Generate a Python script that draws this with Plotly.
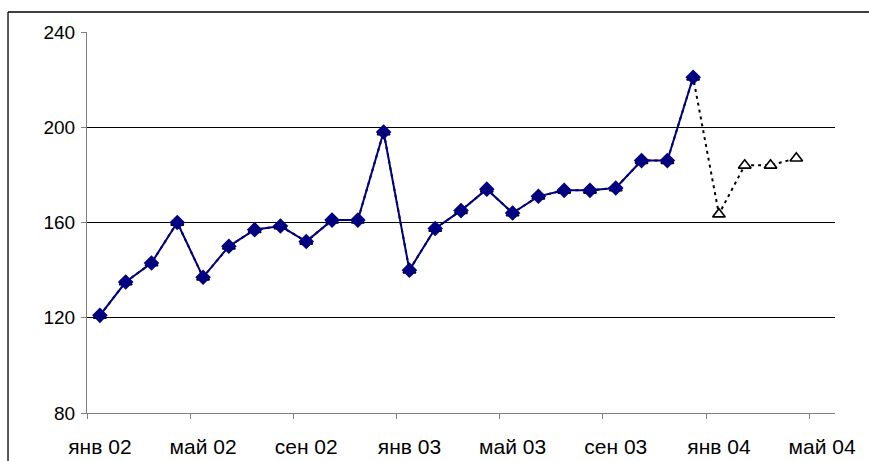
import plotly.graph_objects as go

# Month slots Jan 02 .. May 04 (index 0 = янв 02)
months = ["янв 02", "фев 02", "мар 02", "апр 02", "май 02", "июн 02", "июл 02", "авг 02",
          "сен 02", "окт 02", "ноя 02", "дек 02", "янв 03", "фев 03", "мар 03", "апр 03",
          "май 03", "июн 03", "июл 03", "авг 03", "сен 03", "окт 03", "ноя 03", "дек 03",
          "янв 04", "фев 04", "мар 04", "апр 04", "май 04"]

# Actual values (Jan 02 - Dec 03)
actual = [121, 135, 143, 160, 137, 150, 157, 158.5, 152, 161, 161, 198,
          140, 157.5, 165, 174, 164, 171, 173.5, 173.5, 174.5, 186, 186, 221]

# Model / forecast values (Jan 02 - Apr 04)
model = [121, 135, 143, 160, 137, 150, 157, 158.5, 152, 161, 161, 198,
         140, 157.5, 165, 174, 164, 171, 173.5, 173.5, 174.5, 186, 186, 221,
         163.5, 184, 184, 187]

tick_labels = ["янв 02", "май 02", "сен 02", "янв 03", "май 03", "сен 03", "янв 04", "май 04"]
y_ticks = [80, 120, 160, 200, 240]

label_pos = [months.index(t) for t in tick_labels]
boundary_pos = [p - 0.5 for p in label_pos]

fig = go.Figure()
fig.add_trace(go.Scatter(
    x=list(range(len(model))), y=model, mode="lines+markers",
    line=dict(color="black", width=2, dash="3px,4px"),
    marker=dict(symbol="triangle-up", size=11, color="white",
                line=dict(color="black", width=1.6)),
    showlegend=False, hoverinfo="skip"))
fig.add_trace(go.Scatter(
    x=list(range(len(actual))), y=actual, mode="lines+markers",
    line=dict(color="#000080", width=2),
    marker=dict(symbol="diamond", size=12, color="#000080",
                line=dict(color="#000080", width=0)),
    showlegend=False, hoverinfo="skip"))

fig.update_layout(
    width=869, height=461,
    margin=dict(l=87, r=34, t=32, b=48, autoexpand=False),
    paper_bgcolor="white", plot_bgcolor="white",
    font=dict(family="Arial, Liberation Sans, sans-serif", color="black"),
    xaxis=dict(
        range=[-0.5, len(months) - 0.5], automargin=False,
        tickmode="array", tickvals=label_pos, ticktext=tick_labels,
        ticks="", showgrid=False, zeroline=False,
        showline=True, linecolor="#808080", linewidth=1,
        tickfont=dict(size=21),
        ticklabelstandoff=15,
        minor=dict(tickmode="array", tickvals=boundary_pos, ticks="outside",
                   ticklen=5, tickcolor="#808080", tickwidth=1, showgrid=False),
    ),
    yaxis=dict(
        range=[80, 240], tickmode="array", tickvals=y_ticks, automargin=False,
        ticks="outside", ticklen=5, tickcolor="#808080",
        showgrid=True, gridcolor="black", gridwidth=1, zeroline=False,
        showline=True, linecolor="#808080", linewidth=1,
        tickfont=dict(size=19), ticklabelstandoff=2,
    ),
    shapes=[
        dict(type="line", xref="paper", yref="paper",
             x0=-0.1056, x1=1.5, y0=1.0525, y1=1.0525,
             line=dict(color="black", width=1.3)),
        dict(type="line", xref="paper", yref="paper",
             x0=-0.1056, x1=-0.1056, y0=-0.5, y1=1.0525,
             line=dict(color="black", width=1.3)),
    ],
)

fig.write_html(
    "out.html",
    config={"displayModeBar": False},
    post_script="document.body.style.margin='0';document.body.style.overflow='hidden';",
)
